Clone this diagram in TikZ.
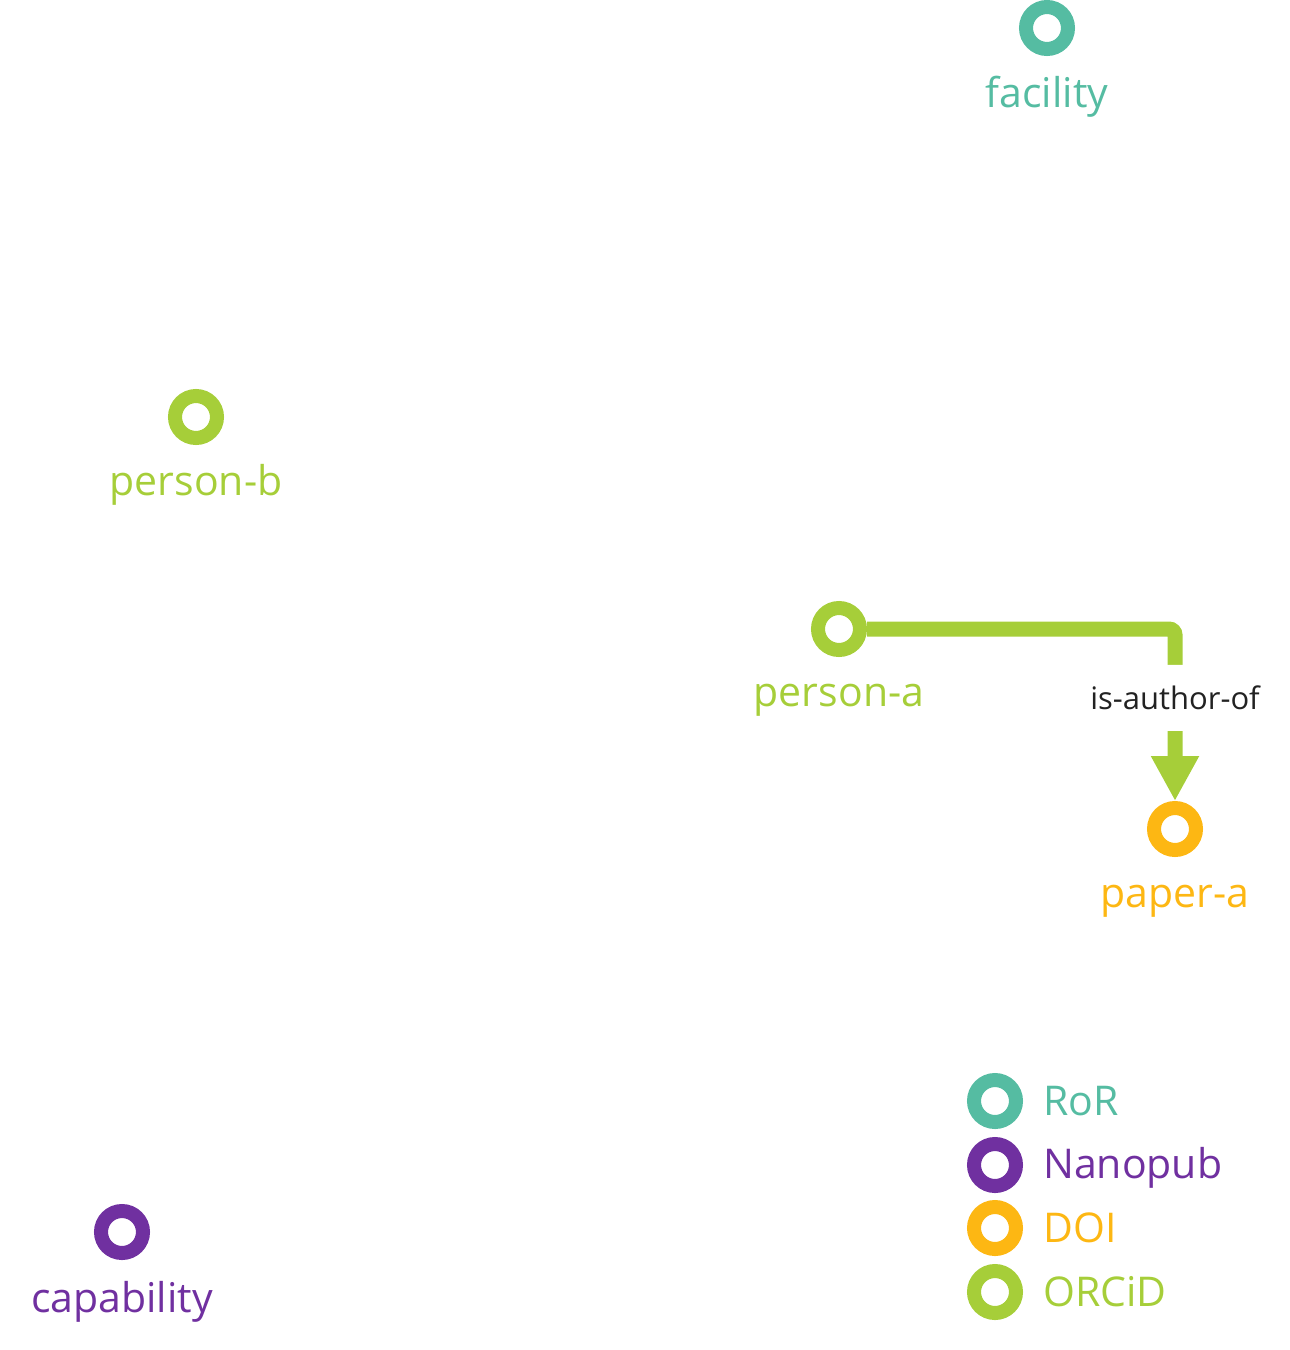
\documentclass[tikz,border=0pt]{standalone}
\usepackage{fontspec}
\setmainfont{Open Sans}
\usetikzlibrary{arrows.meta}
\definecolor{rorteal}{HTML}{55BCA2}
\definecolor{nanopurple}{HTML}{7030A0}
\definecolor{doiorange}{HTML}{FDB713}
\definecolor{orcidgreen}{HTML}{A6CE39}
\definecolor{edgeblack}{HTML}{222222}

\begin{document}
\begin{tikzpicture}[x=1pt, y=-1pt,
		ring/.style={circle, draw=#1, line width=14pt, minimum size=42pt, inner sep=0pt},
		tag/.style={text=#1, font=\fontsize{41}{46}\selectfont, inner sep=0pt},
		edge/.style={draw=orcidgreen, line width=15pt, rounded corners=6pt, -{Triangle[width=45pt, length=45pt]}}]
		\useasboundingbox (0,0) rectangle (1290,1350);
		% entities
		\node[ring=rorteal] (facility) at (1047,28) {};
		\node[ring=orcidgreen] (person-b) at (196,417) {};
		\node[ring=orcidgreen] (person-a) at (839,629) {};
		\node[ring=doiorange] (paper-a) at (1175,829) {};
		\node[ring=nanopurple] (capability) at (122,1232) {};
		\node[tag=rorteal, anchor=base] (facility-t) at ([yshift=-79pt]facility.center) {facility};
		\node[tag=orcidgreen, anchor=base] (person-b-t) at ([yshift=-78pt]person-b.center) {person-b};
		\node[tag=orcidgreen, anchor=base] (person-a-t) at ([yshift=-77pt]person-a.center) {person-a};
		\node[tag=doiorange, anchor=base] (paper-a-t) at ([yshift=-78pt]paper-a.center) {paper-a};
		\node[tag=nanopurple, anchor=base] (capability-t) at ([yshift=-80pt]capability.center) {capability};
		% relation
		\draw[edge] (person-a) -| node[pos=0.70, fill=white, minimum height=66pt, inner xsep=2pt,
			text=edgeblack, font=\fontsize{31}{34}\selectfont] (rel) {is-author-of} (paper-a);
		% legend
		\node[ring=rorteal] (key-ror) at (995,1101) {};
		\node[ring=nanopurple] (key-nano) at (995,1165) {};
		\node[ring=doiorange] (key-doi) at (995,1228) {};
		\node[ring=orcidgreen] (key-orcid) at (995,1292) {};
		\node[tag=rorteal, anchor=base west] (key-ror-t) at ([xshift=48pt, yshift=-14pt]key-ror.center) {RoR};
		\node[tag=nanopurple, anchor=base west] (key-nano-t) at ([xshift=48pt, yshift=-13pt]key-nano.center) {Nanopub};
		\node[tag=doiorange, anchor=base west] (key-doi-t) at ([xshift=48pt, yshift=-14pt]key-doi.center) {DOI};
		\node[tag=orcidgreen, anchor=base west] (key-orcid-t) at ([xshift=48pt, yshift=-14pt]key-orcid.center) {ORCiD};
	\end{tikzpicture}
\end{document}
